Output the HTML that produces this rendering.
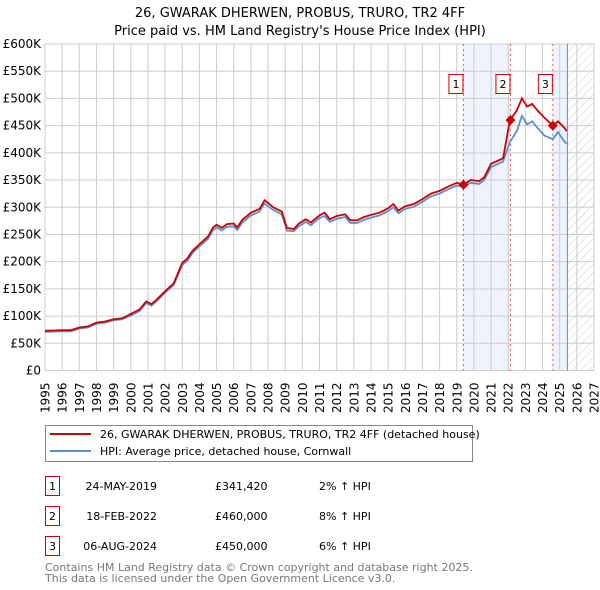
<!DOCTYPE html>
<html><head><meta charset="utf-8"><style>
body{margin:0;background:#fff;font-family:"DejaVu Sans","Liberation Sans",sans-serif}
svg{display:block}
</style></head><body>
<svg id="chart" width="600" height="590" xmlns="http://www.w3.org/2000/svg" font-family="DejaVu Sans, Liberation Sans, sans-serif">
<defs><pattern id="hatch" width="6" height="6" patternUnits="userSpaceOnUse" patternTransform="rotate(45)"><line x1="0" y1="0" x2="0" y2="6" stroke="#ccc" stroke-width="1"/></pattern></defs>
<text x="300" y="17" text-anchor="middle" font-size="13">26, GWARAK DHERWEN, PROBUS, TRURO, TR2 4FF</text>
<text x="300" y="35" text-anchor="middle" font-size="13">Price paid vs. HM Land Registry's House Price Index (HPI)</text>
<g id="plot"></g>
<g id="legend">
<rect x="45.5" y="425.5" width="427" height="36" fill="#fff" stroke="#888"/>
<line x1="50" y1="434" x2="91" y2="434" stroke="#cc0000" stroke-width="2"/>
<text x="100" y="438" font-size="11">26, GWARAK DHERWEN, PROBUS, TRURO, TR2 4FF (detached house)</text>
<line x1="50" y1="451" x2="91" y2="451" stroke="#5b8fd0" stroke-width="2"/>
<text x="100" y="455" font-size="11">HPI: Average price, detached house, Cornwall</text>
</g>
<g id="table" font-size="11">
<rect x="45.5" y="476.5" width="14" height="19" fill="#fff" stroke="#cc0000"/><text x="52.5" y="490" text-anchor="middle">1</text>
<text x="157" y="107" text-anchor="end" transform="translate(0,383)">24-MAY-2019</text><text x="215" y="490">£341,420</text><text x="319" y="490">2% ↑ HPI</text>
<rect x="45.5" y="506.5" width="14" height="19" fill="#fff" stroke="#cc0000"/><text x="52.5" y="520" text-anchor="middle">2</text>
<text x="157" y="520" text-anchor="end">18-FEB-2022</text><text x="215" y="520">£460,000</text><text x="319" y="520">8% ↑ HPI</text>
<rect x="45.5" y="536.5" width="14" height="19" fill="#fff" stroke="#cc0000"/><text x="52.5" y="550" text-anchor="middle">3</text>
<text x="157" y="550" text-anchor="end">06-AUG-2024</text><text x="215" y="550">£450,000</text><text x="319" y="550">6% ↑ HPI</text>
</g>
<text x="45" y="571" font-size="11" fill="#777">Contains HM Land Registry data © Crown copyright and database right 2025.</text>
<text x="45" y="582" font-size="11" fill="#777">This data is licensed under the Open Government Licence v3.0.</text>
</svg>
<script>
const years=[1995,1996,1996.5,1997,1997.5,1998,1998.5,1999,1999.5,2000,2000.5,2000.9,2001.2,2001.5,2002,2002.5,2003,2003.3,2003.6,2004,2004.5,2004.8,2005,2005.3,2005.6,2006,2006.2,2006.5,2007,2007.5,2007.8,2008,2008.3,2008.8,2009.1,2009.5,2009.8,2010.2,2010.5,2011,2011.3,2011.6,2012,2012.5,2012.8,2013.2,2013.6,2014,2014.5,2015,2015.3,2015.6,2016,2016.5,2017,2017.5,2018,2018.5,2019,2019.4,2019.8,2020.3,2020.6,2021,2021.3,2021.7,2022.1,2022.5,2022.8,2023.1,2023.4,2023.7,2024.1,2024.6,2024.9,2025.3,2025.4];
const priceK=[73,74,74,79,81,88,90,94,96,104,112,127,122,130,146,160,198,206,220,232,246,263,268,262,269,270,263,277,290,297,313,308,300,292,262,260,270,278,272,285,290,278,284,287,276,276,282,286,290,298,306,294,302,306,315,325,330,338,345,341,350,348,355,380,384,390,460,478,500,485,490,478,465,450,458,445,440];
const hpiK=[71,72,72,77,79,86,88,92,94,101,109,124,119,127,143,157,194,202,216,228,242,258,263,257,264,265,258,272,285,292,307,302,295,287,257,256,265,273,267,280,284,273,279,282,271,271,277,281,285,293,300,289,297,301,310,320,325,333,340,337,345,343,350,374,378,384,420,440,468,452,458,446,432,425,438,420,417];
const sales=[{n:"1",year:2019.39,k:341.42},{n:"2",year:2022.13,k:460},{n:"3",year:2024.6,k:450}];
const yTicks=[0,50,100,150,200,250,300,350,400,450,500,550,600];
const xTicks=[1995,1996,1997,1998,1999,2000,2001,2002,2003,2004,2005,2006,2007,2008,2009,2010,2011,2012,2013,2014,2015,2016,2017,2018,2019,2020,2021,2022,2023,2024,2025,2026,2027];
const X0=45,X1=594,Y0=370.5,Y1=44,xMin=1995,xMax=2027,yMax=600,dataEnd=2025.45;
const sx=v=>X0+(v-xMin)/(xMax-xMin)*(X1-X0);
const sy=v=>Y0-v/yMax*(Y0-Y1);
const NS="http://www.w3.org/2000/svg";
const g=document.getElementById('plot');
function mk(t,a,p){const e=document.createElementNS(NS,t);for(const k in a)e.setAttribute(k,a[k]);(p||g).appendChild(e);return e;}
// shading
let r=mk('rect',{x:sx(sales[0].year),y:Y1,width:sx(sales[1].year)-sx(sales[0].year),height:Y0-Y1,fill:'#eef3fc'});


r=mk('rect',{x:sx(sales[2].year),y:Y1,width:sx(dataEnd)-sx(sales[2].year),height:Y0-Y1,fill:'#eef3fc'});


r=mk('rect',{x:sx(dataEnd),y:Y1,width:X1-sx(dataEnd),height:Y0-Y1,fill:'url(#hatch)'});


// grid
yTicks.forEach(v=>{const l=mk('line',{x1:X0,x2:X1,y1:sy(v),y2:sy(v),stroke:'#ccc'});


const t=mk('text',{x:X0-4,y:sy(v)+4,'text-anchor':'end','font-size':12});t.textContent=v===0?'£0':'£'+v+'K';

});
xTicks.forEach(v=>{const l=mk('line',{x1:sx(v),x2:sx(v),y1:Y1,y2:Y0,stroke:'#ccc'});


const t=mk('text',{x:0,y:0,'text-anchor':'end','font-size':12,transform:`translate(${sx(v)+4.5},${Y0+12}) rotate(-90)`});t.textContent=v;

});
let el=mk('line',{x1:sx(dataEnd),x2:sx(dataEnd),y1:Y1,y2:Y0,stroke:'#888'});


// sale vlines
sales.forEach(s=>{const l=mk('line',{x1:sx(s.year),x2:sx(s.year),y1:Y1,y2:Y0,stroke:'#e06060','stroke-dasharray':'2,3'});

});
// lines
const pts=a=>years.map((y,i)=>sx(y).toFixed(1)+','+sy(a[i]).toFixed(1)).join(' ');
el=mk('polyline',{points:pts(hpiK),fill:'none',stroke:'#5b8fd0','stroke-width':1.8});


el=mk('polyline',{points:pts(priceK),fill:'none',stroke:'#cc0000','stroke-width':1.8});


sales.forEach(s=>{const d=mk('path',{d:`M${sx(s.year)},${sy(s.k)-5}l5,5l-5,5l-5,-5z`,fill:'#cc0000'});


const b=mk('rect',{x:sx(s.year)-14.5,y:74.5,width:14,height:19,fill:'#fff',stroke:'#cc0000'});


const t=mk('text',{x:sx(s.year)-7.5,y:88,'text-anchor':'middle','font-size':11});t.textContent=s.n;

});
</script>
</body></html>
